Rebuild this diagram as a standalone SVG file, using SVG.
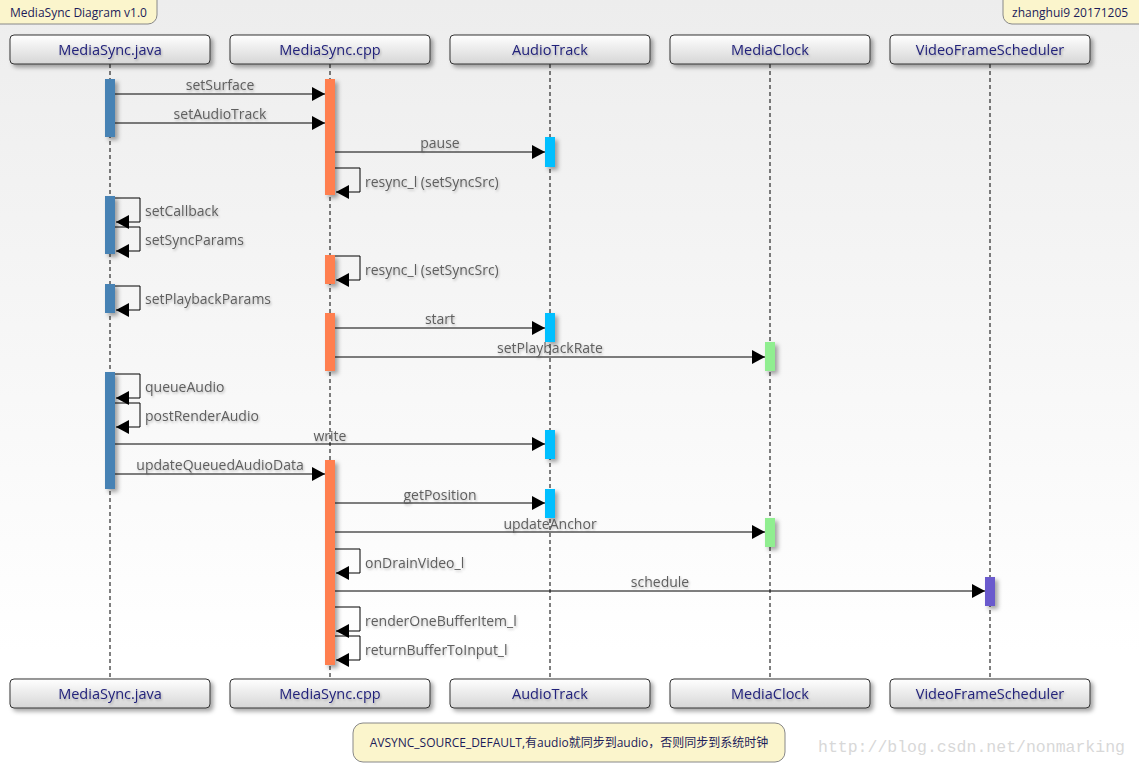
<svg xmlns="http://www.w3.org/2000/svg" width="1139" height="767" viewBox="0 0 1139 767">
<defs>
<linearGradient id="bg" x1="0" y1="0" x2="0" y2="1">
<stop offset="0" stop-color="#ededed"/>
<stop offset="0.85" stop-color="#ffffff"/>
<stop offset="1" stop-color="#ffffff"/>
</linearGradient>
<linearGradient id="pbox" x1="0" y1="0" x2="0" y2="1">
<stop offset="0" stop-color="#ffffff"/>
<stop offset="1" stop-color="#d6d6d6"/>
</linearGradient>
<filter id="sh" x="-20%" y="-20%" width="150%" height="150%">
<feDropShadow dx="3" dy="3" stdDeviation="2" flood-color="#000" flood-opacity="0.35"/>
</filter>
<filter id="tsh" x="-10%" y="-30%" width="130%" height="180%">
<feDropShadow dx="1" dy="1.5" stdDeviation="1" flood-color="#000" flood-opacity="0.25"/>
</filter>
<marker id="ah" markerUnits="userSpaceOnUse" markerWidth="14" markerHeight="16" refX="13" refY="7" orient="auto">
<path d="M0,0 L13,7 L0,14 Z" fill="#000"/>
</marker>
<style>
.pb{fill:url(#pbox);stroke:#333;stroke-width:1;filter:url(#sh)}
.pt{font-family:"Open Sans","Noto Sans",sans-serif;font-size:14.5px;fill:#22227a;text-anchor:middle;filter:url(#tsh)}
.ll{stroke:#000;stroke-width:1;stroke-dasharray:4,3;fill:none}
.act{filter:url(#sh)}
.j{fill:#4682b4}.c{fill:#ff7f50}.a{fill:#00bfff}.m{fill:#90ee90}.v{fill:#6a5acd}
.msg{stroke:#000;stroke-width:1;fill:none;marker-end:url(#ah)}
.lb{font-family:"Open Sans","Noto Sans",sans-serif;font-size:14px;fill:#5e5e5e;filter:url(#tsh)}
.mc{text-anchor:middle}
.note{fill:#fbf5cc;stroke:#888;stroke-width:1}
.nt{font-family:"Open Sans","Noto Sans","Noto Sans CJK SC",sans-serif;font-size:12px;fill:#1c1c5a}
</style>
</defs>
<rect x="0" y="0" width="1139" height="767" fill="url(#bg)"/>

<g id="note-title">
<rect class="note" x="-10" y="-10" width="167" height="34" rx="9"/>
<text class="nt" x="10" y="17">MediaSync Diagram v1.0</text>
</g>
<g id="note-author">
<rect class="note" x="1003" y="-10" width="146" height="34" rx="9"/>
<text class="nt" x="1012" y="17">zhanghui9 20171205</text>
</g>

<g id="p-java">
<line class="ll" x1="110" y1="64" x2="110" y2="679"/>
<rect class="pb" x="10" y="35" width="200" height="29" rx="4"/>
<text class="pt" x="110" y="55">MediaSync.java</text>
<rect class="pb" x="10" y="679" width="200" height="29" rx="4"/>
<text class="pt" x="110" y="699">MediaSync.java</text>
</g>
<g id="p-cpp">
<line class="ll" x1="330" y1="64" x2="330" y2="679"/>
<rect class="pb" x="230" y="35" width="200" height="29" rx="4"/>
<text class="pt" x="330" y="55">MediaSync.cpp</text>
<rect class="pb" x="230" y="679" width="200" height="29" rx="4"/>
<text class="pt" x="330" y="699">MediaSync.cpp</text>
</g>
<g id="p-audiotrack">
<line class="ll" x1="550" y1="64" x2="550" y2="679"/>
<rect class="pb" x="450" y="35" width="200" height="29" rx="4"/>
<text class="pt" x="550" y="55">AudioTrack</text>
<rect class="pb" x="450" y="679" width="200" height="29" rx="4"/>
<text class="pt" x="550" y="699">AudioTrack</text>
</g>
<g id="p-mediaclock">
<line class="ll" x1="770" y1="64" x2="770" y2="679"/>
<rect class="pb" x="670" y="35" width="200" height="29" rx="4"/>
<text class="pt" x="770" y="55">MediaClock</text>
<rect class="pb" x="670" y="679" width="200" height="29" rx="4"/>
<text class="pt" x="770" y="699">MediaClock</text>
</g>
<g id="p-vfs">
<line class="ll" x1="990" y1="64" x2="990" y2="679"/>
<rect class="pb" x="890" y="35" width="200" height="29" rx="4"/>
<text class="pt" x="990" y="55">VideoFrameScheduler</text>
<rect class="pb" x="890" y="679" width="200" height="29" rx="4"/>
<text class="pt" x="990" y="699">VideoFrameScheduler</text>
</g>

<g id="activations" class="act">
<rect class="j" x="105" y="79" width="10" height="58"/>
<rect class="j" x="105" y="196" width="10" height="58"/>
<rect class="j" x="105" y="284" width="10" height="29"/>
<rect class="j" x="105" y="372" width="10" height="117"/>
<rect class="c" x="325" y="79" width="10" height="116"/>
<rect class="c" x="325" y="255" width="10" height="29"/>
<rect class="c" x="325" y="313" width="10" height="58"/>
<rect class="c" x="325" y="460" width="10" height="205"/>
<rect class="a" x="545" y="137" width="10" height="30"/>
<rect class="a" x="545" y="313" width="10" height="29"/>
<rect class="a" x="545" y="430" width="10" height="29"/>
<rect class="a" x="545" y="489" width="10" height="29"/>
<rect class="m" x="765" y="342" width="10" height="29"/>
<rect class="m" x="765" y="518" width="10" height="29"/>
<rect class="v" x="985" y="577" width="10" height="29"/>
</g>

<g id="connectors">
<line class="msg" x1="115" y1="94" x2="325" y2="94"/>
<text class="lb mc" x="220" y="90">setSurface</text>
<line class="msg" x1="115" y1="123" x2="325" y2="123"/>
<text class="lb mc" x="220" y="119">setAudioTrack</text>
<line class="msg" x1="335" y1="152" x2="545" y2="152"/>
<text class="lb mc" x="440" y="148">pause</text>
<polyline class="msg" points="335,168 360,168 360,192 336,192"/>
<text class="lb" x="365" y="187">resync_l (setSyncSrc)</text>
<polyline class="msg" points="115,198 140,198 140,222 116,222"/>
<text class="lb" x="145" y="216">setCallback</text>
<polyline class="msg" points="115,227 140,227 140,251 116,251"/>
<text class="lb" x="145" y="245">setSyncParams</text>
<polyline class="msg" points="335,256 360,256 360,280 336,280"/>
<text class="lb" x="365" y="275">resync_l (setSyncSrc)</text>
<polyline class="msg" points="115,286 140,286 140,310 116,310"/>
<text class="lb" x="145" y="304">setPlaybackParams</text>
<line class="msg" x1="335" y1="328" x2="545" y2="328"/>
<text class="lb mc" x="440" y="324">start</text>
<line class="msg" x1="335" y1="357" x2="765" y2="357"/>
<text class="lb mc" x="550" y="353">setPlaybackRate</text>
<polyline class="msg" points="115,374 140,374 140,398 116,398"/>
<text class="lb" x="145" y="392">queueAudio</text>
<polyline class="msg" points="115,403 140,403 140,427 116,427"/>
<text class="lb" x="145" y="421">postRenderAudio</text>
<line class="msg" x1="115" y1="444" x2="545" y2="444"/>
<text class="lb mc" x="330" y="441">write</text>
<line class="msg" x1="115" y1="474" x2="325" y2="474"/>
<text class="lb mc" x="220" y="470">updateQueuedAudioData</text>
<line class="msg" x1="335" y1="503" x2="545" y2="503"/>
<text class="lb mc" x="440" y="500">getPosition</text>
<line class="msg" x1="335" y1="532" x2="765" y2="532"/>
<text class="lb mc" x="550" y="529">updateAnchor</text>
<polyline class="msg" points="335,549 360,549 360,573 336,573"/>
<text class="lb" x="365" y="568">onDrainVideo_l</text>
<line class="msg" x1="335" y1="591" x2="985" y2="591"/>
<text class="lb mc" x="660" y="587">schedule</text>
<polyline class="msg" points="335,607 360,607 360,631 336,631"/>
<text class="lb" x="365" y="626">renderOneBufferItem_l</text>
<polyline class="msg" points="335,636 360,636 360,660 336,660"/>
<text class="lb" x="365" y="655">returnBufferToInput_l</text>
</g>

<g id="note-avsync">
<rect class="note" x="353" y="723" width="432" height="39" rx="10"/>
<text class="nt" x="569" y="747" text-anchor="middle" font-size="12.3">AVSYNC_SOURCE_DEFAULT,有audio就同步到audio，否则同步到系统时钟</text>
</g>

<text x="818" y="752" font-family="'Liberation Mono',monospace" font-size="16.5" fill="#d8d8d8">http://blog.csdn.net/nonmarking</text>
</svg>
